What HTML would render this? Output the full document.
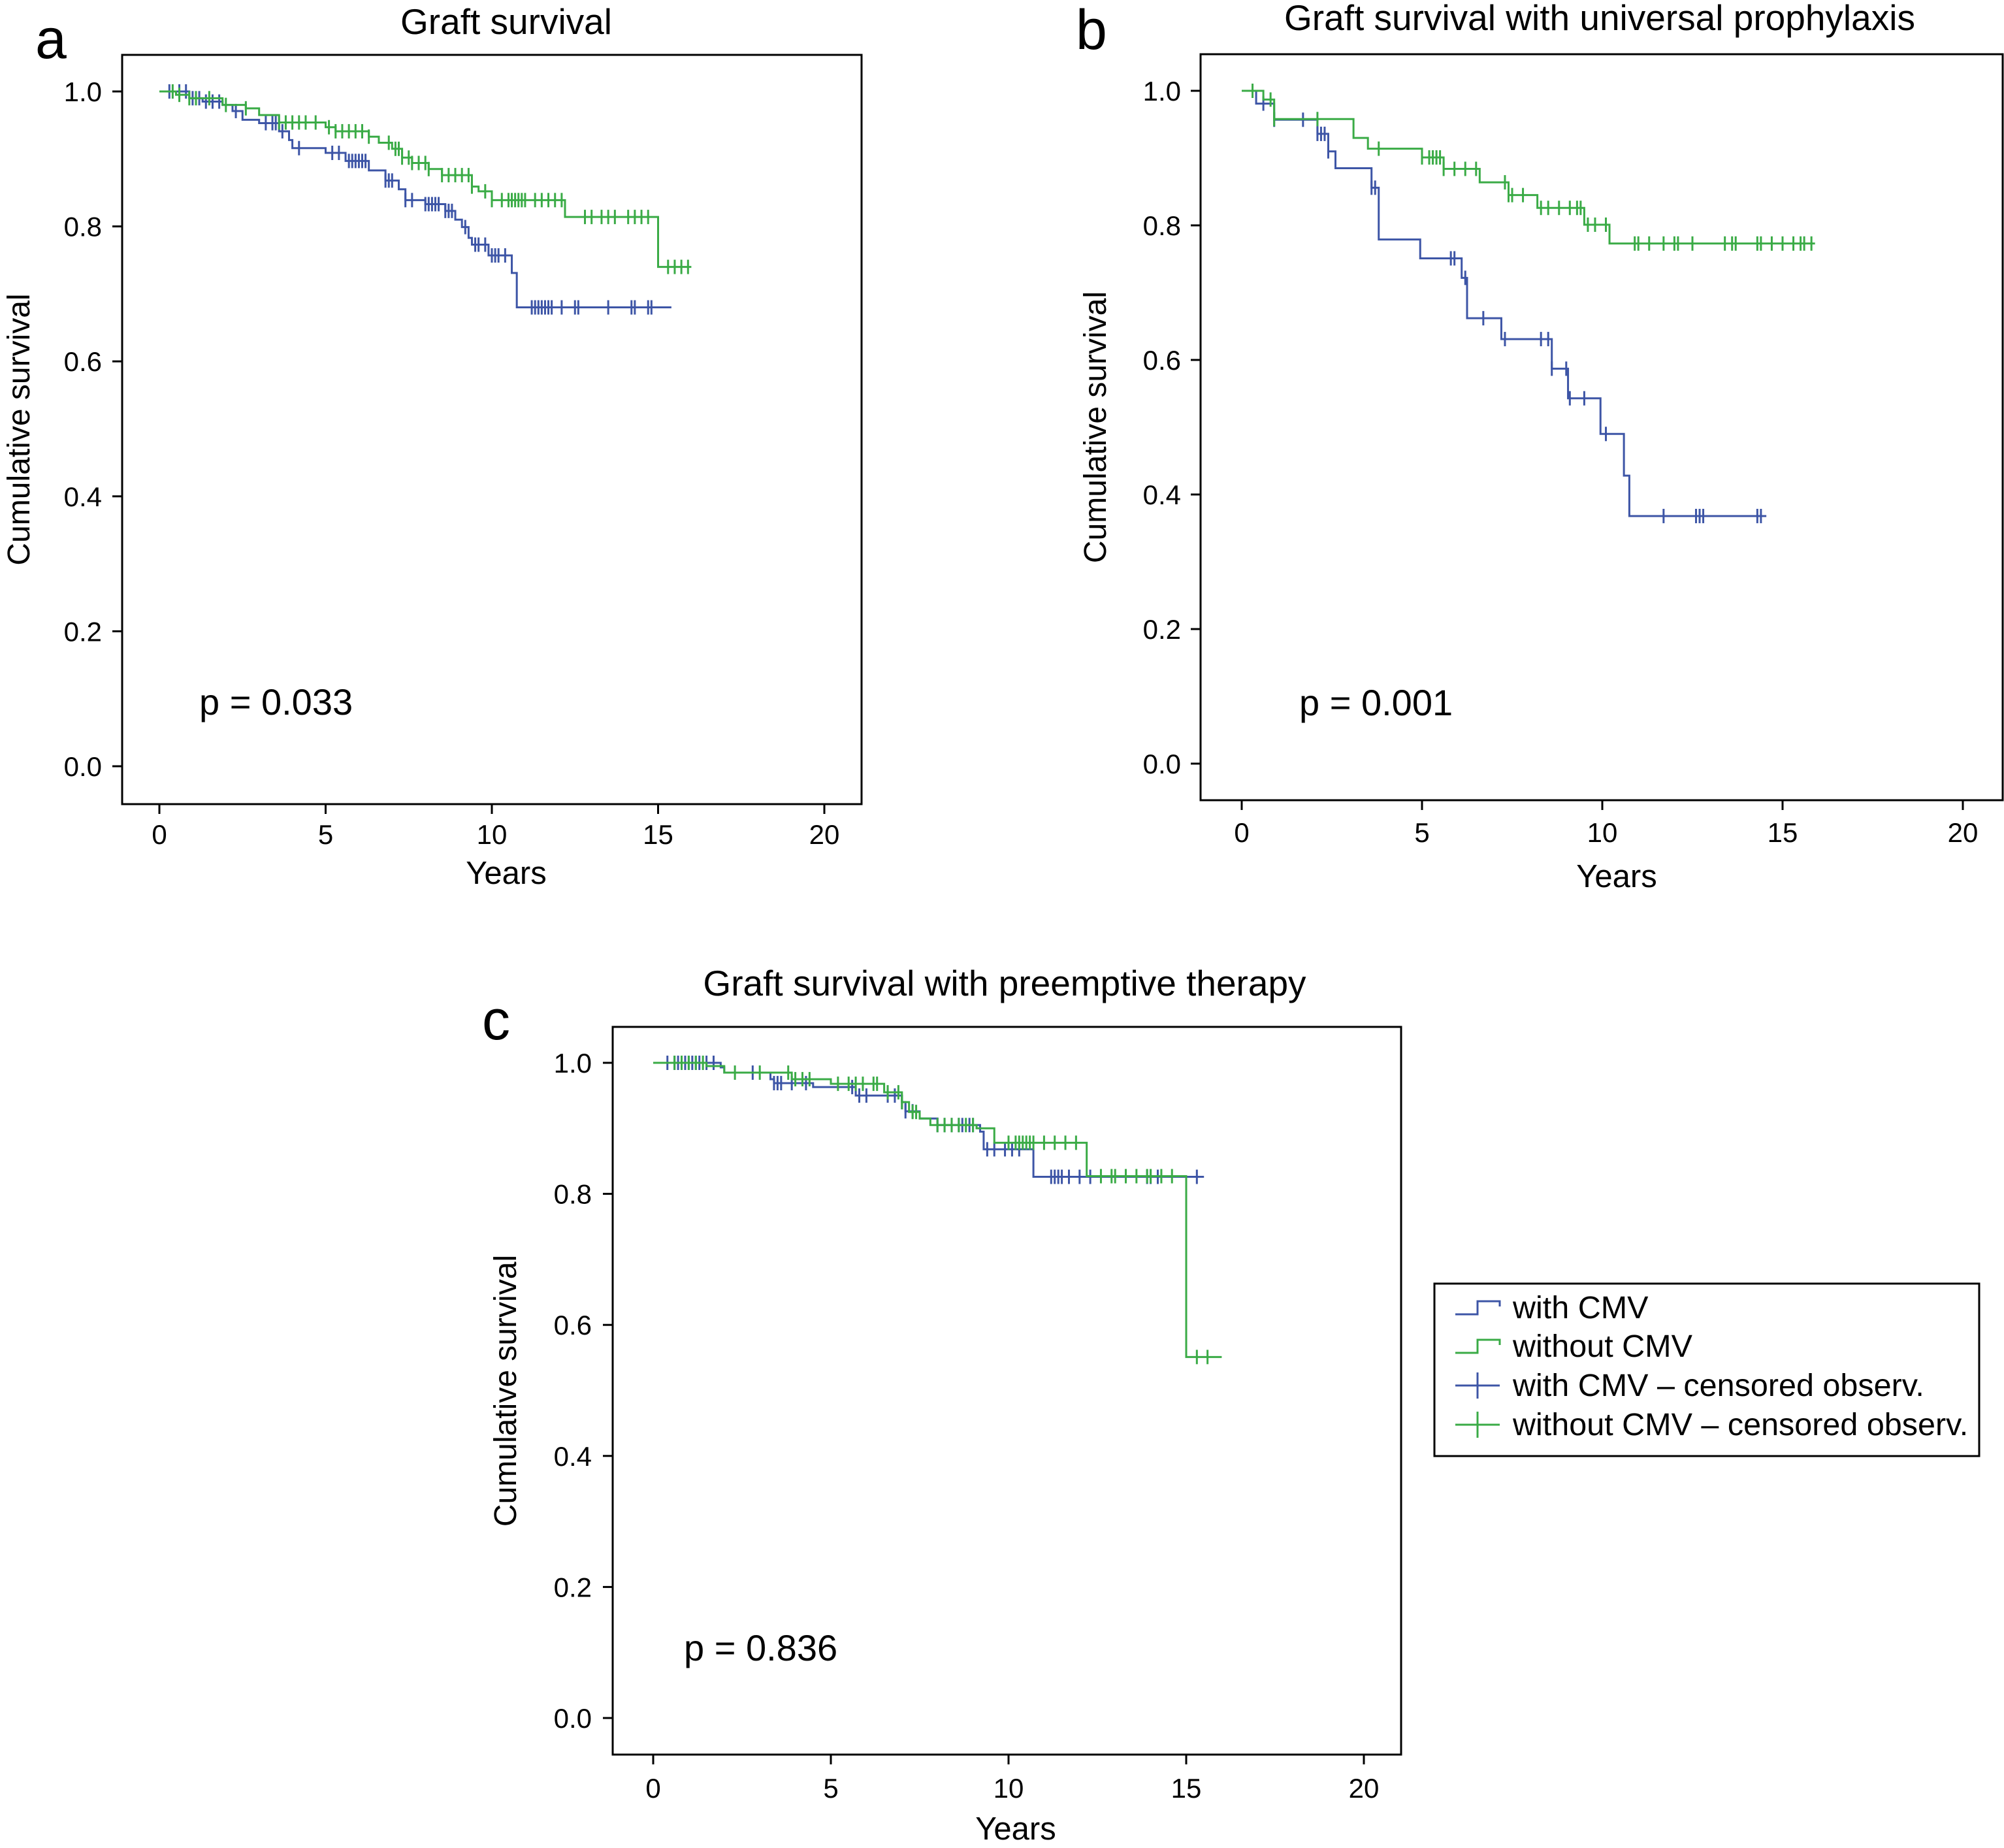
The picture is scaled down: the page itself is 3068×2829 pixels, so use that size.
<!DOCTYPE html>
<html><head><meta charset="utf-8"><style>
html,body{margin:0;padding:0;background:#fff}
svg{display:block;font-family:"Liberation Sans",Arial,sans-serif}
</style></head><body>
<svg id="fig" width="3068" height="2829" viewBox="0 0 3068 2829" xmlns="http://www.w3.org/2000/svg">
<rect width="3068" height="2829" fill="#fff"/>
</svg>
<script>
// Panel a data
const aBlueT=[0,0.9,1.3,1.9,2.2,2.5,3.0,3.6,3.9,4.0,5.0,5.6,6.3,6.8,7.2,7.4,8.0,8.6,8.9,9.1,9.3,9.4,9.9,10.6,10.75];
const aBlueS=[1,0.99,0.985,0.98,0.971,0.958,0.953,0.941,0.928,0.916,0.909,0.897,0.883,0.868,0.855,0.839,0.833,0.823,0.81,0.799,0.783,0.773,0.757,0.731,0.68];
const aBlueEnd=15.4;
const aBlueC=[0.3,0.6,0.8,1.0,1.2,1.4,1.6,1.8,2.3,3.2,3.4,3.5,3.7,4.2,5.2,5.4,5.7,5.8,5.9,6.0,6.1,6.2,6.8,6.9,7.0,7.4,7.6,8.0,8.1,8.2,8.3,8.4,8.6,8.7,8.8,9.2,9.5,9.6,9.8,10.0,10.1,10.2,10.4,11.2,11.3,11.4,11.5,11.6,11.7,11.8,12.1,12.5,12.6,13.5,14.2,14.3,14.7,14.8];
const aGreenT=[0,0.5,0.9,1.9,2.6,3.0,3.6,5.0,5.3,6.3,6.6,7.0,7.3,7.6,8.1,8.5,9.4,9.6,10.0,12.2,15.0];
const aGreenS=[1,0.995,0.99,0.98,0.975,0.965,0.954,0.947,0.941,0.933,0.924,0.915,0.902,0.894,0.885,0.876,0.859,0.852,0.839,0.814,0.74];
const aGreenEnd=16.0;
const aGreenC=[0.4,0.6,0.9,1.1,1.5,2.0,2.6,3.6,3.8,4.0,4.2,4.4,4.7,5.1,5.3,5.5,5.7,5.9,6.1,6.3,6.9,7.1,7.2,7.3,7.5,7.6,7.8,8.0,8.1,8.5,8.7,8.9,9.1,9.3,9.4,9.8,10.0,10.3,10.5,10.6,10.7,10.8,10.9,11.0,11.3,11.5,11.7,11.9,12.1,12.8,13.0,13.3,13.5,13.7,14.1,14.3,14.5,14.7,15.3,15.5,15.7,15.9];
// Panel b data
const bBlueT=[0,0.4,0.9,2.1,2.4,2.6,3.6,3.8,4.95,6.1,6.25,7.2,8.6,9.05,9.95,10.6,10.75];
const bBlueS=[1,0.981,0.957,0.936,0.91,0.885,0.856,0.779,0.751,0.722,0.662,0.631,0.587,0.543,0.49,0.428,0.368];
const bBlueEnd=14.55;
const bBlueC=[0.6,0.9,1.7,2.1,2.2,2.3,2.4,3.6,3.7,5.8,5.9,6.2,6.7,7.3,8.3,8.5,8.6,9.0,9.1,9.5,10.1,11.7,12.6,12.7,12.8,14.3,14.4];
const bGreenT=[0,0.6,0.9,3.1,3.5,5.0,5.6,6.6,7.4,8.2,9.5,10.2];
const bGreenS=[1,0.987,0.958,0.93,0.914,0.901,0.884,0.864,0.845,0.826,0.801,0.773];
const bGreenEnd=15.9;
const bGreenC=[0.3,0.8,0.9,2.1,3.8,5.0,5.2,5.3,5.4,5.5,5.6,5.9,6.2,6.5,7.3,7.4,7.5,7.8,8.3,8.5,8.8,9.1,9.3,9.4,9.6,9.8,10.1,10.9,11.0,11.3,11.7,12.0,12.1,12.5,13.4,13.6,13.7,14.3,14.4,14.7,15.0,15.3,15.5,15.6,15.8];
// Panel c data
const cBlueT=[0,1.9,2.0,3.3,3.4,4.5,5.7,7.0,7.1,7.5,8.0,9.2,9.3,10.7];
const cBlueS=[1,0.993,0.985,0.975,0.969,0.963,0.95,0.94,0.926,0.915,0.905,0.895,0.868,0.826];
const cBlueEnd=15.5;
const cBlueC=[0.4,0.6,0.7,0.8,0.9,1.0,1.1,1.2,1.3,1.5,1.7,2.8,3.4,3.5,3.6,3.9,4.3,5.6,5.8,6.0,6.6,6.8,7.0,7.1,7.3,8.0,8.2,8.4,8.6,8.7,8.9,9.0,9.4,9.6,9.9,10.1,10.3,11.2,11.3,11.4,11.5,11.7,12.0,12.3,13.9,14.0,14.2,15.3];
const cGreenT=[0,1.5,2.0,3.9,5.0,6.5,7.0,7.2,7.5,7.8,9.1,9.6,12.2,15.0];
const cGreenS=[1,0.995,0.985,0.975,0.968,0.955,0.94,0.925,0.915,0.905,0.9,0.878,0.827,0.551];
const cGreenEnd=16.0;
const cGreenC=[0.6,0.8,1.0,1.2,1.4,2.3,3.0,3.8,4.0,4.2,4.4,5.2,5.5,5.7,5.9,6.2,6.3,6.6,6.9,7.0,7.3,7.4,8.0,8.2,8.4,8.6,8.8,9.0,10.0,10.2,10.3,10.4,10.5,10.6,10.7,11.0,11.3,11.6,11.9,12.6,12.9,13.0,13.3,13.6,13.9,14.0,14.3,14.6,15.3,15.6];
const xTicks=[0,5,10,15,20];
const yTicks=[0,0.2,0.4,0.6,0.8,1.0];
const yTickLabels=["0.0","0.2","0.4","0.6","0.8","1.0"];

const BLUE="#3d55a6", GREEN="#3aab46";
const NS="http://www.w3.org/2000/svg";
const svg=document.getElementById('fig');
function mk(tag,attrs,parent){const e=document.createElementNS(NS,tag);for(const k in attrs)e.setAttribute(k,attrs[k]);(parent||svg).appendChild(e);return e;}
function txt(s,attrs,parent){const e=mk('text',attrs,parent);e.textContent=s;return e;}

function panel(cfg){
  const g=mk('g',{});
  
  
  const X=v=>cfg.x0+(cfg.x20-cfg.x0)*v/20;
  const Y=v=>cfg.y0+(cfg.y1-cfg.y0)*v;
  const fr=mk('rect',{x:cfg.fl,y:cfg.ft,width:cfg.fr-cfg.fl,height:cfg.fb-cfg.ft,fill:'none',stroke:'#000','stroke-width':3},g);
  
  
  const t=txt(cfg.title,{x:cfg.tx,y:cfg.ty,'font-size':55,'text-anchor':'middle'},g);
  
  
  const l=txt(cfg.id,{x:cfg.lx,y:cfg.ly,'font-size':86},g);
  
  
  xTicks.forEach(v=>{
    const tk=mk('line',{x1:X(v),x2:X(v),y1:cfg.fb,y2:cfg.fb+15,stroke:'#000','stroke-width':3},g);
    
    
    const tl=txt(String(v),{x:X(v),y:cfg.xtb,'font-size':42,'text-anchor':'middle'},g);
    
    
  });
  yTicks.forEach((v,i)=>{
    const tk=mk('line',{x1:cfg.fl-15,x2:cfg.fl,y1:Y(v),y2:Y(v),stroke:'#000','stroke-width':3},g);
    
    
    const tl=txt(yTickLabels[i],{x:cfg.ytr,y:Y(v)+15,'font-size':42,'text-anchor':'end'},g);
    
    
  });
  const xl=txt('Years',{x:cfg.xlx,y:cfg.xly,'font-size':49,'text-anchor':'middle'},g);
  
  
  const yc=(cfg.ft+cfg.fb)/2;
  const yl=txt('Cumulative survival',{x:cfg.ylx,y:yc,'font-size':48,'text-anchor':'middle',transform:`rotate(-90 ${cfg.ylx} ${yc})`},g);
  
  
  const p=txt(cfg.p,{x:cfg.px,y:cfg.py,'font-size':56},g);
  
  
  cfg.series.forEach(s=>{
    let d=`M${X(s.T[0])},${Y(s.S[0])}`;
    for(let i=1;i<s.T.length;i++){d+=`H${X(s.T[i])}V${Y(s.S[i])}`;}
    d+=`H${X(s.end)}`;
    const path=mk('path',{d:d,fill:'none',stroke:s.color,'stroke-width':3},g);
    
    
    s.C.forEach(c=>{
      let sv=s.S[0];
      for(let i=0;i<s.T.length;i++){if(s.T[i]<=c)sv=s.S[i];}
      const m=mk('line',{x1:X(c),x2:X(c),y1:Y(sv)-11,y2:Y(sv)+11,stroke:s.color,'stroke-width':3},g);
      
      
    });
  });
}

panel({id:'a',title:'Graft survival',fl:187,fr:1319,ft:84,fb:1231,x0:244,x20:1262,y0:1173,y1:140,
  tx:775,ty:52,lx:54,ly:89,xtb:1292,ytr:156,xlx:775,xly:1353,ylx:45,p:'p = 0.033',px:305,py:1094,
  series:[{name:'with-cmv',color:BLUE,T:aBlueT,S:aBlueS,end:aBlueEnd,C:aBlueC},
          {name:'without-cmv',color:GREEN,T:aGreenT,S:aGreenS,end:aGreenEnd,C:aGreenC}]});
panel({id:'b',title:'Graft survival with universal prophylaxis',fl:1838,fr:3066,ft:83,fb:1225,x0:1901,x20:3005,y0:1169,y1:139,
  tx:2449,ty:46,lx:1647,ly:75,xtb:1289,ytr:1808,xlx:2475,xly:1358,ylx:1693,p:'p = 0.001',px:1989,py:1095,
  series:[{name:'with-cmv',color:BLUE,T:bBlueT,S:bBlueS,end:bBlueEnd,C:bBlueC},
          {name:'without-cmv',color:GREEN,T:bGreenT,S:bGreenS,end:bGreenEnd,C:bGreenC}]});
panel({id:'c',title:'Graft survival with preemptive therapy',fl:938,fr:2145,ft:1572,fb:2686,x0:1000,x20:2088,y0:2630,y1:1627,
  tx:1538,ty:1524,lx:738,ly:1591,xtb:2752,ytr:906,xlx:1555,xly:2816,ylx:790,p:'p = 0.836',px:1047,py:2542,
  series:[{name:'with-cmv',color:BLUE,T:cBlueT,S:cBlueS,end:cBlueEnd,C:cBlueC},
          {name:'without-cmv',color:GREEN,T:cGreenT,S:cGreenS,end:cGreenEnd,C:cGreenC}]});

// legend
const lg=mk('g',{});


const lb=mk('rect',{x:2196,y:1965,width:834,height:264,fill:'#fff',stroke:'#000','stroke-width':3},lg);


const legLabels=['with CMV','without CMV','with CMV \u2013 censored observ.','without CMV \u2013 censored observ.'];
const legColors=[BLUE,GREEN,BLUE,GREEN];
const legBase=[2018,2077,2137,2197];
legLabels.forEach((s,i)=>{
  const cy=legBase[i]-16;
  let icon;
  if(i<2){icon=mk('path',{d:`M2228,${cy+10}H2262V${cy-10}H2296V${cy-2}`,fill:'none',stroke:legColors[i],'stroke-width':3},lg);}
  else{icon=mk('path',{d:`M2228,${cy}H2296M2262,${cy-20}V${cy+20}`,fill:'none',stroke:legColors[i],'stroke-width':3},lg);}
  
  
  const t=txt(s,{x:2316,y:legBase[i],'font-size':48.5},lg);
  
  
});
</script>
</body></html>
